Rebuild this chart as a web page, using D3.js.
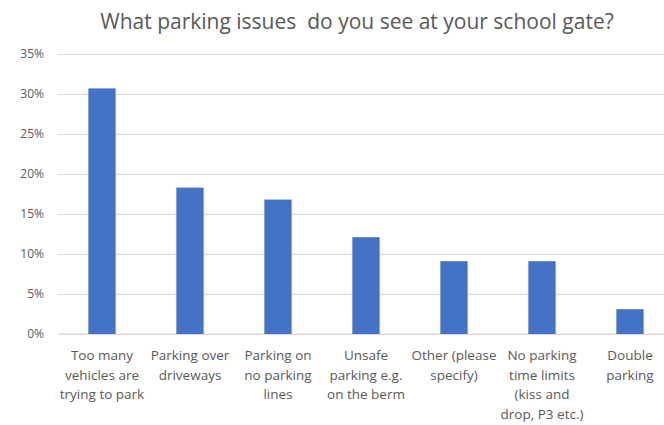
<!DOCTYPE html>
<html>
<head>
<meta charset="utf-8">
<script src="https://cdn.jsdelivr.net/npm/d3@7"></script>
<style>
  body { margin: 0; background: #fff; }
  text { font-family: "Open Sans", "Liberation Sans", sans-serif; }
</style>
</head>
<body>
<div id="chart"></div>
<script>
// chart data
let categories = [
    ["Too many", "vehicles are", "trying to park"],
    ["Parking over", "driveways"],
    ["Parking on", "no parking", "lines"],
    ["Unsafe", "parking e.g.", "on the berm"],
    ["Other (please", "specify)"],
    ["No parking", "time limits", "(kiss and", "drop, P3 etc.)"],
    ["Double", "parking"]
];
let values = [30.7, 18.3, 16.8, 12.1, 9.1, 9.1, 3.1];
let yTicks = [0, 5, 10, 15, 20, 25, 30, 35];
let title = "What parking issues  do you see at your school gate?";

let width = 664, height = 425;
let margin = {top: 54, right: -10, bottom: 91, left: 58};

let svg = d3.select("#chart").append("svg")
    .attr("width", width)
    .attr("height", height);

let x = d3.scaleBand()
    .domain(d3.range(categories.length))
    .range([margin.left, width - margin.right])
    .paddingInner(0.69)
    .paddingOuter(0.345);

let y = d3.scaleLinear()
    .domain([0, 35])
    .range([height - margin.bottom, margin.top]);

// title
svg.append("text")
    .attr("x", 357)
    .attr("y", 29)
    .attr("text-anchor", "middle")
    .attr("fill", "#595959")
    .attr("font-size", "21px")
    .style("white-space", "pre")
    .text(title);

// gridlines + y labels
let yAxis = d3.axisLeft(y)
    .tickValues(yTicks)
    .tickSize(-(width - margin.right - margin.left))
    .tickPadding(14)
    .tickFormat(d => d + "%");

let gy = svg.append("g")
    .attr("transform", `translate(${margin.left},0)`)
    .call(yAxis);
gy.select(".domain").remove();
gy.selectAll(".tick line").attr("stroke", "#d9d9d9").attr("stroke-width", 1);
gy.selectAll(".tick text")
    .attr("fill", "#595959")
    .attr("font-size", "12px");

// baseline
svg.append("line")
    .attr("x1", margin.left)
    .attr("x2", width)
    .attr("y1", y(0))
    .attr("y2", y(0))
    .attr("stroke", "#d9d9d9");

// bars
svg.selectAll(".bar")
    .data(values)
    .enter()
    .append("rect")
    .attr("class", "bar")
    .attr("x", (d, i) => x(i))
    .attr("y", d => y(d))
    .attr("width", x.bandwidth())
    .attr("height", d => y(0) - y(d))
    .attr("fill", "#4472c4");

// category labels
let labels = svg.selectAll(".cat")
    .data(categories)
    .enter()
    .append("text")
    .attr("class", "cat")
    .attr("text-anchor", "middle")
    .attr("fill", "#595959")
    .attr("font-size", "13.5px");

labels.each(function(lines, i) {
    let t = d3.select(this);
    lines.forEach(function(line, j) {
        t.append("tspan")
            .attr("x", x(i) + x.bandwidth() / 2)
            .attr("y", 360 + j * 19.7)
            .text(line);
    });
});
</script>
</body>
</html>
